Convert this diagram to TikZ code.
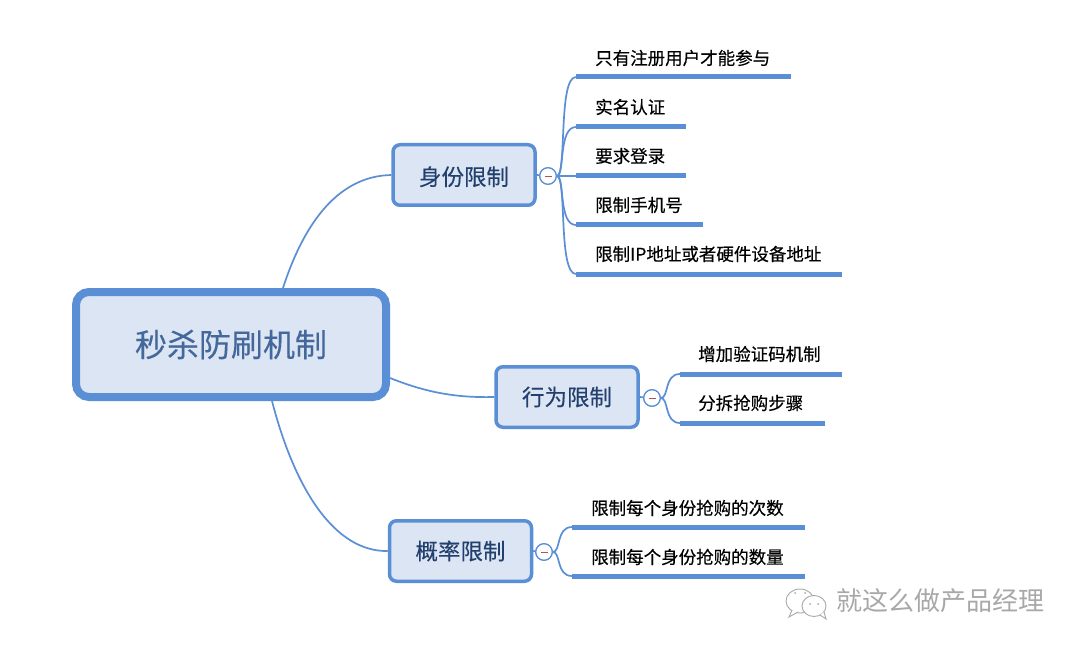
\documentclass[tikz,border=0pt]{standalone}
\usepackage{fontspec}
\setmainfont{Noto Sans CJK SC}
\newfontfamily\heavyfont[FakeBold=0.35]{Noto Sans CJK SC}
\newfontfamily\midfont[FakeBold=0.2]{Noto Sans CJK SC}
\definecolor{mapblue}{HTML}{5B8FD5}
\definecolor{mapfill}{HTML}{DCE5F3}
\definecolor{roottext}{HTML}{44689B}
\definecolor{branchtext}{HTML}{22406E}
\definecolor{markgray}{HTML}{A8A8A8}
\newcommand{\fsz}[1]{\fontsize{#1pt}{#1pt}\selectfont}
\tikzset{
  rootbox/.style={draw=mapblue,fill=mapfill,line width=8pt,rounded corners=13pt,minimum width=310pt,minimum height=105pt,inner sep=0pt,text=roottext,font=\midfont\fsz{32}},
  branchbox/.style={draw=mapblue,fill=mapfill,line width=3.5pt,rounded corners=7pt,minimum width=142pt,minimum height=60.5pt,inner sep=0pt,text=branchtext,font=\midfont\fsz{22.5}},
  leaftext/.style={anchor=west,inner sep=0pt,text=black,font=\heavyfont\fsz{17.5}},
  bar/.style={draw=mapblue,line width=5pt},
  link/.style={draw=mapblue,line width=1.7pt},
  toggle/.style={circle,draw=mapblue,fill=white,line width=1.2pt,minimum size=16.5pt,inner sep=0pt},
  minus/.style={draw=gray!70!red,line width=.7pt},
  marktext/.style={inner sep=0pt,text=markgray,font=\fsz{26}},
  bubble/.style={draw=markgray,fill=white,line width=.9pt}
}
\begin{document}
\begin{tikzpicture}[x=1pt,y=-1pt]
\useasboundingbox (0,0) rectangle (1080,650);
\fill[white] (0,0) rectangle (1080,650);

% free ends of the connectors
\coordinate (rA) at (283,288);
\coordinate (rB) at (390,378);
\coordinate (rC) at (272,401);
\coordinate (s1) at (576,77);   \coordinate (e1) at (791,77);
\coordinate (s2) at (576,127);  \coordinate (e2) at (686,127);
\coordinate (s3) at (576,176);  \coordinate (e3) at (686,176);
\coordinate (s4) at (576,225);  \coordinate (e4) at (703,225);
\coordinate (s5) at (576,274);  \coordinate (e5) at (842,274);
\coordinate (s6) at (680,374);  \coordinate (e6) at (842,374);
\coordinate (s7) at (680,423);  \coordinate (e7) at (825,423);
\coordinate (s8) at (572,527);  \coordinate (e8) at (805,527);
\coordinate (s9) at (572,576);  \coordinate (e9) at (805,576);

% nodes
\node[branchbox,text depth=0pt] (id) at (464,175) {\raisebox{-1.5pt}{身份限制}};
\node[branchbox] (act) at (567,397) {\raisebox{-1.5pt}{行为限制}};
\node[branchbox] (prob) at (460.5,551) {\raisebox{-1.5pt}{概率限制}};
\node[toggle] (tid) at (548,176) {};
\node[toggle] (tact) at (652,398) {};
\node[toggle] (tprob) at (544,552) {};

% root connectors
\path[link] (rA) .. controls (305,220) and (340,176) .. (id.west);
\path[link] (rB) .. controls (425,392) and (455,398) .. (act.west);
\path[link] (rC) .. controls (295,490) and (335,552) .. (prob.west);

% box to toggle
\path[link] (id.east) -- (tid);
\path[link] (act.east) -- (tact);
\path[link] (prob.east) -- (tprob);

% toggle to leaves
\path[link] (tid.east) .. controls (567,176) and (558,77) .. (s1);
\path[link] (tid.east) .. controls (565,176) and (558,127) .. (s2);
\path[link] (tid.east) -- (s3);
\path[link] (tid.east) .. controls (565,176) and (558,225) .. (s4);
\path[link] (tid.east) .. controls (567,176) and (558,274) .. (s5);
\path[link] (tact.east) .. controls (669,398) and (664,374) .. (s6);
\path[link] (tact.east) .. controls (669,398) and (664,423) .. (s7);
\path[link] (tprob.east) .. controls (561,552) and (556,527) .. (s8);
\path[link] (tprob.east) .. controls (561,552) and (556,576) .. (s9);

% toggles redrawn on top, with minus signs
\node[toggle] at (tid) {};
\node[toggle] at (tact) {};
\node[toggle] at (tprob) {};
\draw[minus] (544.5,176) -- (551.5,176);
\draw[minus] (648.5,398) -- (655.5,398);
\draw[minus] (540.5,552) -- (547.5,552);

% bars
\path[bar] (s1) -- (e1);
\path[bar] (s2) -- (e2);
\path[bar] (s3) -- (e3);
\path[bar] (s4) -- (e4);
\path[bar] (s5) -- (e5);
\path[bar] (s6) -- (e6);
\path[bar] (s7) -- (e7);
\path[bar] (s8) -- (e8);
\path[bar] (s9) -- (e9);

% root on top
\node[rootbox] (root) at (231,344.5) {\raisebox{-1pt}{秒杀防刷机制}};

% leaf labels
\node[leaftext] (l1) at (595,58) {只有注册用户才能参与};
\node[leaftext] (l2) at (595,107) {实名认证};
\node[leaftext] (l3) at (595,156) {要求登录};
\node[leaftext] (l4) at (595,205) {限制手机号};
\node[leaftext] (l5) at (595,254) {限制IP地址或者硬件设备地址};
\node[leaftext] (l6) at (698,354) {增加验证码机制};
\node[leaftext] (l7) at (698,403) {分拆抢购步骤};
\node[leaftext] (l8) at (591,508) {限制每个身份抢购的次数};
\node[leaftext] (l9) at (591,557) {限制每个身份抢购的数量};

% watermark
\draw[bubble] (800,601) ellipse (14pt and 12pt);
\draw[bubble] (792,610) -- (789,617) -- (798,612);
\draw[bubble] (814,606) ellipse (12pt and 10.5pt);
\draw[bubble] (820,615) -- (826,619) -- (824,612);
\fill[markgray] (795,593) circle (1pt) (805,593) circle (1pt) (810,604) circle (1pt) (818,604) circle (1pt);
\node[marktext] (wm) at (940,601) {就这么做产品经理};
\end{tikzpicture}
\end{document}
